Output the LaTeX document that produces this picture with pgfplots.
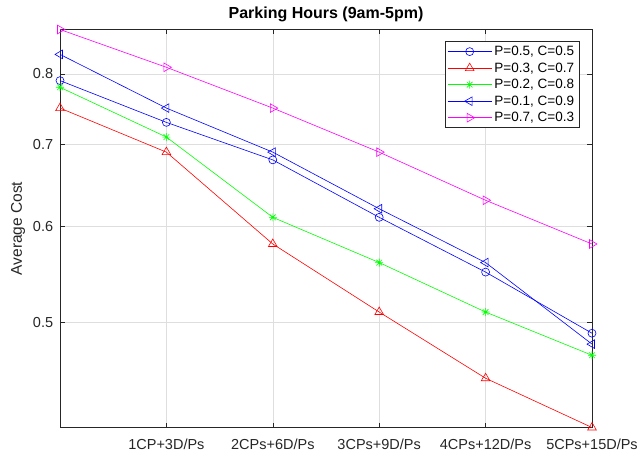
\documentclass[border=0pt]{standalone}
\usepackage{fontspec}
\setmainfont{Liberation Sans}
\usepackage{pgfplots}
\pgfplotsset{compat=1.18}
\definecolor{axisgray}{rgb}{0.15,0.15,0.15}
\definecolor{gridgray}{rgb}{0.87,0.87,0.87}
\definecolor{mblue}{rgb}{0,0,1}
\definecolor{mred}{rgb}{1,0,0}
\definecolor{mgreen}{rgb}{0,1,0}
\definecolor{mmagenta}{rgb}{1,0,1}

% matlab-style '*' marker: a plus and a cross on top of each other
\pgfdeclareplotmark{mstar}{%
  \pgfpathmoveto{\pgfqpoint{-\pgfplotmarksize}{0pt}}%
  \pgfpathlineto{\pgfqpoint{\pgfplotmarksize}{0pt}}%
  \pgfpathmoveto{\pgfqpoint{0pt}{-\pgfplotmarksize}}%
  \pgfpathlineto{\pgfqpoint{0pt}{\pgfplotmarksize}}%
  \pgfpathmoveto{\pgfqpoint{-0.707\pgfplotmarksize}{-0.707\pgfplotmarksize}}%
  \pgfpathlineto{\pgfqpoint{0.707\pgfplotmarksize}{0.707\pgfplotmarksize}}%
  \pgfpathmoveto{\pgfqpoint{-0.707\pgfplotmarksize}{0.707\pgfplotmarksize}}%
  \pgfpathlineto{\pgfqpoint{0.707\pgfplotmarksize}{-0.707\pgfplotmarksize}}%
  \pgfusepathqstroke}

\begin{document}
\begin{tikzpicture}
  \begin{axis}[
    scale only axis,
    width=532pt, height=398pt,
    xmin=0, xmax=5,
    ymode=log, ymin=0.41, ymax=0.87,
    xtick={0,1,2,3,4,5},
    xticklabels={,1CP+3D/Ps,2CPs+6D/Ps,3CPs+9D/Ps,4CPs+12D/Ps,5CPs+15D/Ps},
    ytick={0.5,0.6,0.7,0.8},
    yticklabels={0.5,0.6,0.7,0.8},
    minor tick length=0pt,
    grid=major,
    major grid style={gridgray, line width=0.5pt},
    tick align=inside,
    major tick length=5pt,
    axis line style={axisgray, line width=0.6pt},
    every tick/.style={axisgray, line width=0.6pt},
    ticklabel style={font=\fontsize{14.5}{17}\selectfont, text=axisgray, inner sep=1pt},
    xticklabel style={yshift=-10pt},
    yticklabel style={xshift=-5.7pt},
    ylabel={Average Cost},
    every axis y label/.style={at={(axis description cs:-0.0789,0.5)}, rotate=90,
      anchor=center, font=\fontsize{15.5}{18}\selectfont, text=axisgray},
    title={Parking Hours (9am-5pm)},
    title style={font=\bfseries\fontsize{16}{19}\selectfont, at={(0.5,1)}, anchor=base, yshift=4.5pt},
    legend style={at={(0.976,0.97)}, anchor=north east, draw=axisgray, fill=white,
      font=\fontsize{13.5}{15}\selectfont, inner xsep=2.5pt, inner ysep=2pt,
      nodes={inner sep=2.5pt}, row sep=0.6pt},
    legend cell align=left,
    legend image code/.code={\draw[mark repeat=2,mark phase=2] plot coordinates {(0pt,0pt) (22pt,0pt) (44pt,0pt)};},
    every axis plot/.append style={line width=0.6pt},
  ]
    \addplot[mblue, mark=o, mark size=4pt] coordinates {(0,0.79) (1,0.73) (2,0.68) (3,0.61) (4,0.55) (5,0.49)};
    \addlegendentry{P=0.5, C=0.5}
    \addplot[mred, mark=triangle, mark size=5pt] coordinates {(0,0.75) (1,0.69) (2,0.58) (3,0.51) (4,0.45) (5,0.41)};
    \addlegendentry{P=0.3, C=0.7}
    \addplot[mgreen, mark=mstar, mark size=4pt] coordinates {(0,0.78) (1,0.71) (2,0.61) (3,0.56) (4,0.51) (5,0.47)};
    \addlegendentry{P=0.2, C=0.8}
    \addplot[mblue, mark=triangle, mark size=5pt, mark options={rotate=90}] coordinates {(0,0.83) (1,0.75) (2,0.69) (3,0.62) (4,0.56) (5,0.48)};
    \addlegendentry{P=0.1, C=0.9}
    \addplot[mmagenta, mark=triangle, mark size=5pt, mark options={rotate=-90}] coordinates {(0,0.87) (1,0.81) (2,0.75) (3,0.69) (4,0.63) (5,0.58)};
    \addlegendentry{P=0.7, C=0.3}
  \end{axis}
  \path ([xshift=-60pt,yshift=-26pt]current axis.south west) rectangle ([xshift=47pt,yshift=29.5pt]current axis.north east);
\end{tikzpicture}
\end{document}
